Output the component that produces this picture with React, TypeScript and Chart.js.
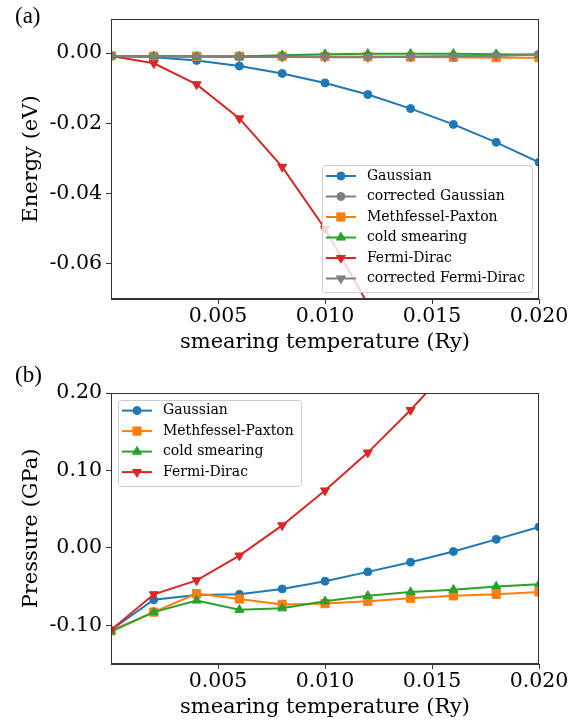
import React, { useEffect, useRef } from 'react';
import { Chart, registerables } from 'chart.js';

Chart.register(...registerables);

// ---------------- data ----------------
const temperatures = [0, 0.002, 0.004, 0.006, 0.008, 0.010, 0.012, 0.014, 0.016, 0.018, 0.020];

const energyGaussian = [-0.0008, -0.0012, -0.0021, -0.0037, -0.0058, -0.0085, -0.0118, -0.0158, -0.0203, -0.0254, -0.0311];
const energyCorrectedGaussian = [-0.0008, -0.0009, -0.0009, -0.001, -0.001, -0.0011, -0.0011, -0.001, -0.0009, -0.0007, -0.0003];
const energyMethfesselPaxton = [-0.0008, -0.0009, -0.0009, -0.0009, -0.0009, -0.001, -0.001, -0.0011, -0.0012, -0.0013, -0.0013];
const energyCold = [-0.0008, -0.0009, -0.001, -0.001, -0.0006, -0.0003, -0.0002, -0.0002, -0.0002, -0.0003, -0.0005];
const energyFermiDirac = [-0.0008, -0.0029, -0.0089, -0.0186, -0.0324, -0.05, -0.0714, -0.097, -0.127, -0.161, -0.199];
const energyCorrectedFermiDirac = [-0.0008, -0.001, -0.001, -0.0011, -0.0011, -0.0012, -0.0012, -0.0011, -0.001, -0.0008, -0.0004];

const pressureGaussian = [-0.106, -0.067, -0.061, -0.06, -0.053, -0.043, -0.031, -0.0185, -0.0047, 0.011, 0.027];
const pressureMethfesselPaxton = [-0.107, -0.083, -0.059, -0.066, -0.073, -0.072, -0.069, -0.065, -0.062, -0.06, -0.057];
const pressureCold = [-0.108, -0.083, -0.068, -0.08, -0.078, -0.069, -0.062, -0.057, -0.054, -0.05, -0.047];
const pressureFermiDirac = [-0.106, -0.06, -0.042, -0.01, 0.029, 0.074, 0.123, 0.178, 0.238, 0.305, 0.38];

const xTicks = [0.005, 0.010, 0.015, 0.020];
const energyTicks = [0.0, -0.02, -0.04, -0.06];
const pressureTicks = [0.2, 0.1, 0.0, -0.1];

const xTitle = 'smearing temperature (Ry)';
const energyTitle = 'Energy (eV)';
const pressureTitle = 'Pressure (GPa)';

// ---------------- styles ----------------
const BLUE = '#1f77b4';
const ORANGE = '#ff7f0e';
const GREEN = '#2ca02c';
const RED = '#d62728';
const GRAY = '#7f7f7f';
const AXIS = '#333333';
const SERIF = '"DejaVu Serif", serif';

type Marker = { style: 'circle' | 'rect' | 'triangle'; rot: number; r: number };
const CIRCLE: Marker = { style: 'circle', rot: 0, r: 4 };
const SQUARE: Marker = { style: 'rect', rot: 0, r: 5.8 };
const UP: Marker = { style: 'triangle', rot: 0, r: 5.2 };
const DOWN: Marker = { style: 'triangle', rot: 180, r: 5.2 };

function makeDataset(label: string, values: number[], color: string, m: Marker, order: number) {
  return {
    label,
    data: temperatures.map((x, i) => ({ x, y: values[i] })),
    borderColor: color,
    backgroundColor: color,
    borderWidth: 2,
    pointStyle: m.style,
    pointRotation: m.rot,
    pointRadius: m.r,
    pointBorderWidth: 1,
    pointBorderColor: color,
    pointBackgroundColor: color,
    tension: 0,
    order,
    _marker: m,
  } as any;
}

function drawMarker(ctx: CanvasRenderingContext2D, m: Marker, x: number, y: number, color: string) {
  ctx.save();
  ctx.fillStyle = color;
  ctx.strokeStyle = color;
  ctx.lineWidth = 1;
  ctx.beginPath();
  if (m.style === 'circle') {
    ctx.arc(x, y, m.r, 0, Math.PI * 2);
  } else if (m.style === 'rect') {
    const s = Math.SQRT1_2 * m.r;
    ctx.rect(x - s, y - s, 2 * s, 2 * s);
  } else {
    let rad = (m.rot * Math.PI) / 180;
    for (let k = 0; k < 3; k++) {
      const px = x + Math.sin(rad) * m.r;
      const py = y - Math.cos(rad) * m.r;
      if (k === 0) ctx.moveTo(px, py);
      else ctx.lineTo(px, py);
      rad += (2 * Math.PI) / 3;
    }
    ctx.closePath();
  }
  ctx.fill();
  ctx.stroke();
  ctx.restore();
}

function frameAndLegend(corner: 'br' | 'tl') {
  return {
    id: 'frameAndLegend',
    afterDatasetsDraw(chart: any) {
      const ctx: CanvasRenderingContext2D = chart.ctx;
      const a = chart.chartArea;
      ctx.save();
      // full frame (spines)
      ctx.strokeStyle = AXIS;
      ctx.lineWidth = 1;
      ctx.strokeRect(Math.round(a.left) + 0.5, Math.round(a.top) + 0.5, Math.round(a.right - a.left) - 1, Math.round(a.bottom - a.top) - 1);

      // legend
      const ds = chart.data.datasets;
      ctx.font = `14px ${SERIF}`;
      const maxW = Math.max(...ds.map((d: any) => ctx.measureText(d.label).width));
      const w = 45 + maxW + 7;
      const rowH = 20.5;
      const h = 10.6 + (ds.length - 1) * rowH + 13.5;
      const left = corner === 'br' ? a.right - 7 - w : a.left + 7;
      const top = corner === 'br' ? a.bottom - 7 - h : a.top + 7;
      ctx.beginPath();
      (ctx as any).roundRect(Math.round(left) + 0.5, Math.round(top) + 0.5, Math.round(w), Math.round(h), 3);
      ctx.fillStyle = 'rgba(255,255,255,0.8)';
      ctx.fill();
      ctx.strokeStyle = '#cccccc';
      ctx.lineWidth = 1;
      ctx.stroke();
      ds.forEach((d: any, i: number) => {
        const y = top + 10.6 + i * rowH;
        ctx.beginPath();
        ctx.strokeStyle = d.borderColor;
        ctx.lineWidth = 2;
        ctx.moveTo(left + 4, y);
        ctx.lineTo(left + 34, y);
        ctx.stroke();
        drawMarker(ctx, d._marker, left + 19, y, d.borderColor);
        ctx.fillStyle = '#000';
        ctx.textAlign = 'left';
        ctx.textBaseline = 'middle';
        ctx.fillText(d.label, left + 45, y);
      });
      ctx.restore();
    },
  };
}

function makeConfig(
  datasets: any[],
  yMin: number,
  yMax: number,
  yTicks: number[],
  yTitle: string,
  padTop: number,
  xAxisHeight: number,
  xTitlePadBottom: number,
  corner: 'br' | 'tl'
) {
  return {
    type: 'line',
    data: { datasets },
    options: {
      animation: false,
      responsive: false,
      events: [],
      layout: { padding: { left: 0, right: 47, top: padTop, bottom: 0 } },
      plugins: { legend: { display: false }, tooltip: { enabled: false }, title: { display: false } },
      scales: {
        x: {
          type: 'linear',
          min: 0,
          max: 0.02,
          afterBuildTicks: (s: any) => {
            s.ticks = xTicks.map((v) => ({ value: v }));
          },
          afterFit: (s: any) => {
            s.height = xAxisHeight;
          },
          ticks: {
            callback: (v: any) => Number(v).toFixed(3),
            font: { family: SERIF, size: 20.5 },
            color: '#000',
            padding: 0,
            maxRotation: 0,
            autoSkip: false,
          },
          grid: { drawOnChartArea: false, drawTicks: true, tickLength: 5, color: AXIS, tickWidth: 1 },
          border: { display: true, color: AXIS, width: 1 },
          title: {
            display: true,
            text: xTitle,
            font: { family: SERIF, size: 21 },
            color: '#000',
            padding: { top: 0, bottom: xTitlePadBottom },
          },
        },
        y: {
          type: 'linear',
          min: yMin,
          max: yMax,
          afterBuildTicks: (s: any) => {
            s.ticks = yTicks.map((v) => ({ value: v }));
          },
          afterFit: (s: any) => {
            s.width = 111;
          },
          ticks: {
            callback: (v: any) => Number(v).toFixed(2),
            font: { family: SERIF, size: 20.5 },
            color: '#000',
            padding: 4,
            autoSkip: false,
          },
          grid: { drawOnChartArea: false, drawTicks: true, tickLength: 5, color: AXIS, tickWidth: 1 },
          border: { display: true, color: AXIS, width: 1 },
          title: {
            display: true,
            text: yTitle,
            font: { family: SERIF, size: 21 },
            color: '#000',
            padding: { top: 19, bottom: 0 },
          },
        },
      },
    },
    plugins: [frameAndLegend(corner)],
  } as any;
}

function ChartCanvas({ config }: { config: () => any }) {
  const ref = useRef<HTMLCanvasElement>(null);
  useEffect(() => {
    if (!ref.current) return;
    const chart = new Chart(ref.current, config());
    return () => chart.destroy();
  }, []);
  return <canvas ref={ref} width={586} height={361} style={{ display: 'block', width: 586, height: 361 }} />;
}

export default function App() {
  const energyConfig = () =>
    makeConfig(
      [
        makeDataset('Gaussian', energyGaussian, BLUE, CIRCLE, 6),
        makeDataset('corrected Gaussian', energyCorrectedGaussian, GRAY, CIRCLE, 5),
        makeDataset('Methfessel-Paxton', energyMethfesselPaxton, ORANGE, SQUARE, 4),
        makeDataset('cold smearing', energyCold, GREEN, UP, 3),
        makeDataset('Fermi-Dirac', energyFermiDirac, RED, DOWN, 2),
        makeDataset('corrected Fermi-Dirac', energyCorrectedFermiDirac, GRAY, DOWN, 1),
      ],
      -0.07,
      0.0097,
      energyTicks,
      energyTitle,
      19,
      62,
      5.4,
      'br'
    );
  const pressureConfig = () =>
    makeConfig(
      [
        makeDataset('Gaussian', pressureGaussian, BLUE, CIRCLE, 4),
        makeDataset('Methfessel-Paxton', pressureMethfesselPaxton, ORANGE, SQUARE, 3),
        makeDataset('cold smearing', pressureCold, GREEN, UP, 2),
        makeDataset('Fermi-Dirac', pressureFermiDirac, RED, DOWN, 1),
      ],
      -0.15,
      0.2,
      pressureTicks,
      pressureTitle,
      32,
      58,
      1.4,
      'tl'
    );
  const panelLabel: React.CSSProperties = {
    position: 'absolute',
    left: 15,
    fontFamily: '"Liberation Serif", serif',
    fontSize: 23,
    lineHeight: '23px',
    color: '#000',
  };
  return (
    <div style={{ position: 'absolute', left: 0, top: 0, width: 586, height: 722, background: '#fff' }}>
      <div style={{ position: 'absolute', left: 0, top: 0 }}>
        <ChartCanvas config={energyConfig} />
      </div>
      <div style={{ position: 'absolute', left: 0, top: 361 }}>
        <ChartCanvas config={pressureConfig} />
      </div>
      <div style={{ ...panelLabel, top: 4 }}>(a)</div>
      <div style={{ ...panelLabel, top: 363 }}>(b)</div>
    </div>
  );
}
